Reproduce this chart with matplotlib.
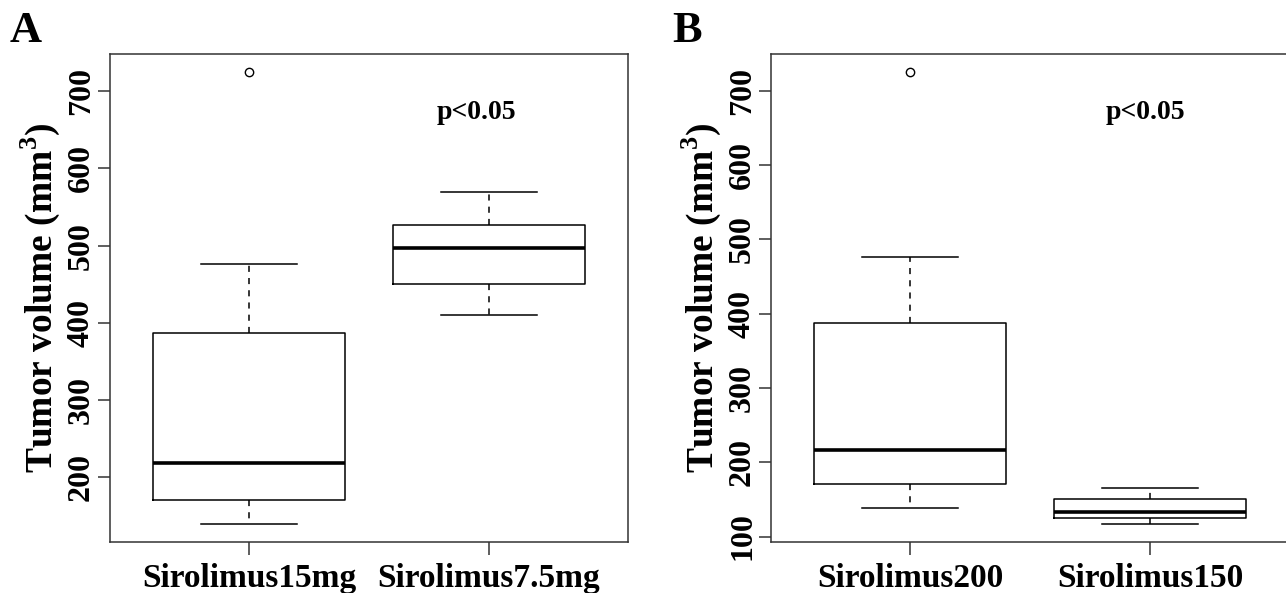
import numpy as np
import matplotlib
matplotlib.use("Agg")
import matplotlib.pyplot as plt

plt.rcParams['font.family'] = ['Liberation Serif', 'DejaVu Serif']
plt.rcParams['font.weight'] = 'bold'
plt.rcParams['mathtext.fontset'] = 'custom'
plt.rcParams['mathtext.bf'] = 'Liberation Serif:bold'
plt.rcParams['mathtext.rm'] = 'Liberation Serif:bold'

# panel A
labels_a = ['Sirolimus15mg', 'Sirolimus7.5mg']
whislo_a = [139, 410]
q1_a = [170, 450]
med_a = [218, 497]
q3_a = [387, 527]
whishi_a = [476, 570]
fliers_a = [[725], []]

# panel B
labels_b = ['Sirolimus200', 'Sirolimus150']
whislo_b = [139, 117]
q1_b = [171, 125]
med_b = [217, 133]
q3_b = [387, 150]
whishi_b = [476, 166]
fliers_b = [[725], []]

yticks_a = [200, 300, 400, 500, 600, 700]
yticks_b = [100, 200, 300, 400, 500, 600, 700]


def make_stats(labels, wlo, q1, med, q3, whi, fl):
    stats = []
    for i in range(len(labels)):
        stats.append(dict(label=labels[i], whislo=wlo[i], q1=q1[i], med=med[i],
                          q3=q3[i], whishi=whi[i], fliers=fl[i]))
    return stats


def draw_panel(ax, stats, yticks, letter, letter_x, p_x):
    ax.bxp(stats, positions=[1, 2], widths=0.8, showfliers=True,
           boxprops=dict(color='black', linewidth=1.1),
           medianprops=dict(color='black', linewidth=2.6),
           whiskerprops=dict(color='black', linewidth=1.1, linestyle=(0, (4, 4))),
           capprops=dict(color='black', linewidth=1.1),
           flierprops=dict(marker='o', markerfacecolor='none', markeredgecolor='black',
                           markersize=6, markeredgewidth=1.0),
           capwidths=0.4)

    # R style range: data range plus 4 percent each side
    lo = min(min(s['whislo'] for s in stats), min(min(s['fliers'], default=1e9) for s in stats))
    hi = max(max(s['whishi'] for s in stats), max(max(s['fliers'], default=-1e9) for s in stats))
    pad = (hi - lo) * 0.04
    ax.set_ylim(lo - pad, hi + pad)
    ax.set_xlim(0.42, 2.58)

    ax.set_yticks(yticks)
    ax.set_yticklabels([str(t) for t in yticks], rotation=90, va='center',
                       fontsize=23, fontweight='bold')
    ax.set_xticks([1, 2])
    ax.set_xticklabels([s['label'] for s in stats], fontsize=24, fontweight='bold')
    ax.tick_params(axis='both', direction='out', length=9, width=1.1, color='#333333')
    ax.tick_params(axis='y', pad=1)
    ax.tick_params(axis='x', pad=6)
    for sp in ax.spines.values():
        sp.set_linewidth(1.1)
        sp.set_color('#333333')

    ax.set_ylabel('Tumor volume (mm$^{\\mathbf{3}}$)', fontsize=27, fontweight='bold',
                  labelpad=4)
    ax.text(p_x, 664 if letter == 'A' else 662, 'p<0.05', ha='center', va='baseline',
            fontsize=20, fontweight='bold')
    fig.text(letter_x, 1 - 42 / 593, letter, fontsize=32, fontweight='bold',
             ha='left', va='baseline')


fig = plt.figure(figsize=(12.86, 5.93), dpi=100)
ax_a = fig.add_axes([110 / 1286, 51 / 593, 518 / 1286, 488 / 593])
ax_b = fig.add_axes([771 / 1286, 51 / 593, 518 / 1286, 488 / 593])

draw_panel(ax_a, make_stats(labels_a, whislo_a, q1_a, med_a, q3_a, whishi_a, fliers_a),
           yticks_a, 'A', 10 / 1286, 1.95)
draw_panel(ax_b, make_stats(labels_b, whislo_b, q1_b, med_b, q3_b, whishi_b, fliers_b),
           yticks_b, 'B', 672 / 1286, 1.98)

fig.savefig('out.png', dpi=100)
